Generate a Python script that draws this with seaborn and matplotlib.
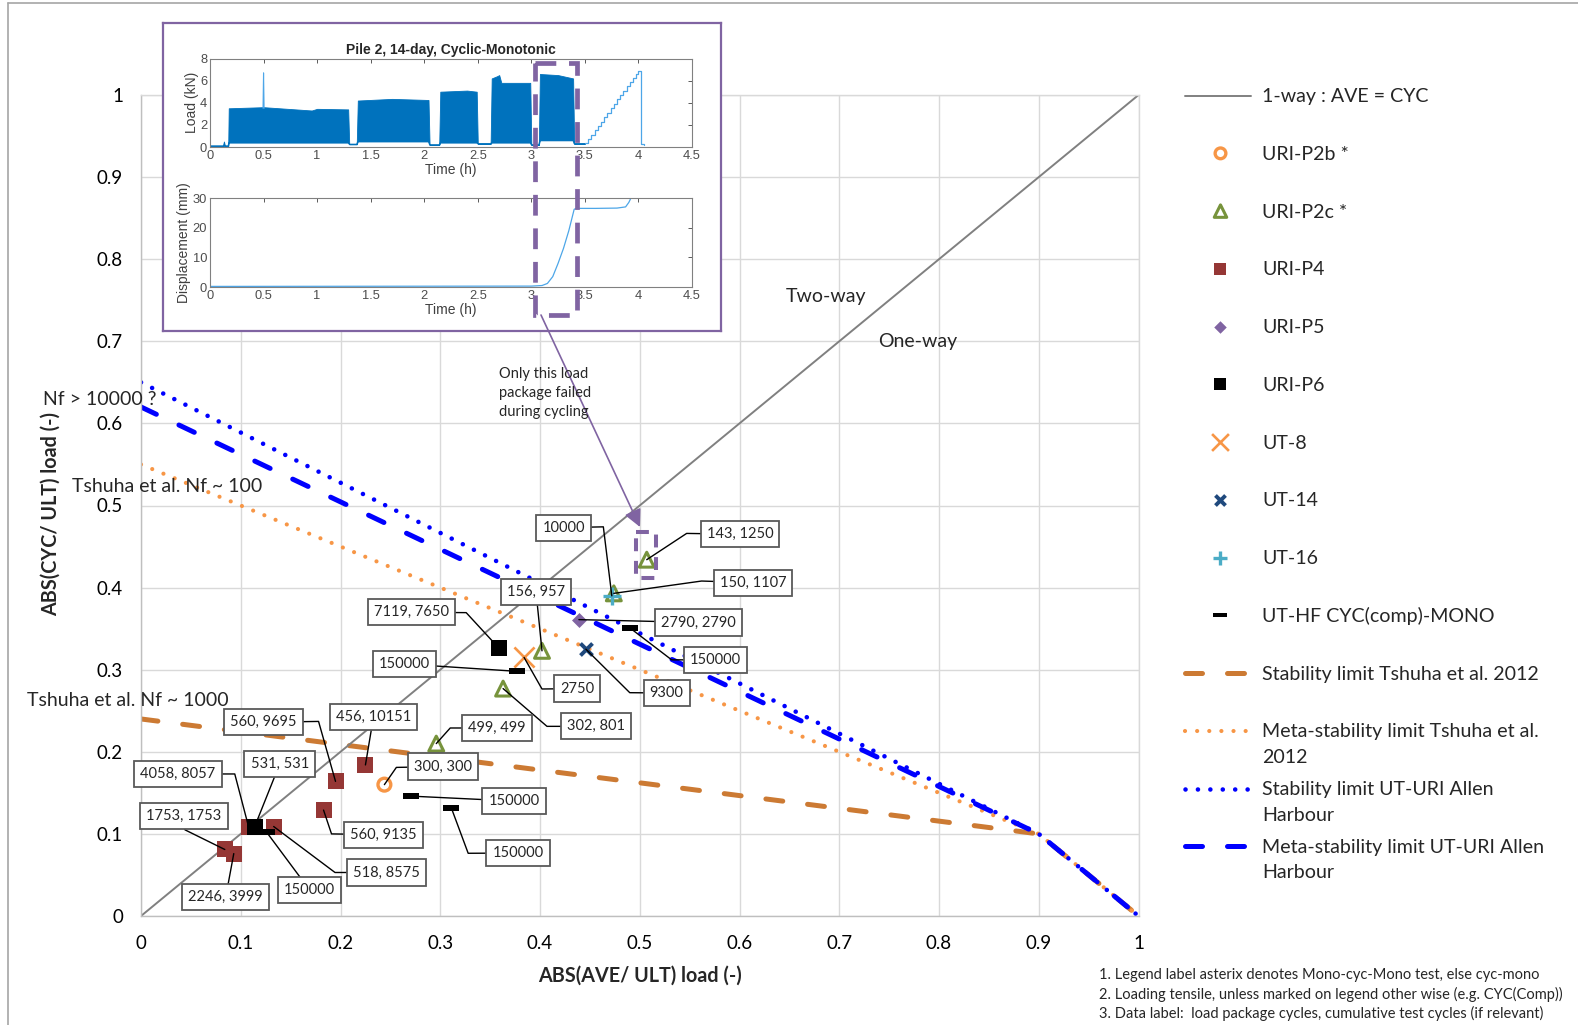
import matplotlib
matplotlib.use("Agg")
import matplotlib.pyplot as plt
from matplotlib.patches import Rectangle
import seaborn as sns

# ---------------------------------------------------------------
# Limit lines, |AVE/ULT| (x) against |CYC/ULT| (y)
# ---------------------------------------------------------------
one_way_x = [0.0, 1.0]
one_way_y = [0.0, 1.0]
tshuha_stab_x = [0.0, 0.9, 1.0]
tshuha_stab_y = [0.24, 0.10, 0.0]
tshuha_meta_x = [0.0, 0.9, 1.0]
tshuha_meta_y = [0.55, 0.10, 0.0]
allen_stab_x = [0.0, 0.9, 1.0]
allen_stab_y = [0.65, 0.10, 0.0]
allen_meta_x = [0.0, 0.9, 1.0]
allen_meta_y = [0.62, 0.10, 0.0]

# ---------------------------------------------------------------
# Test results (data label: load package cycles, cumulative cycles)
# ---------------------------------------------------------------
p2b_x = [0.244]
p2b_y = [0.160]
p2b_labels = ["300, 300"]

p2c_x = [0.296, 0.363, 0.402, 0.474, 0.507]
p2c_y = [0.210, 0.277, 0.323, 0.393, 0.434]
p2c_labels = ["499, 499", "302, 801", "156, 957", "150, 1107", "143, 1250"]

p4_x = [0.084, 0.093, 0.108, 0.133, 0.183, 0.195, 0.225]
p4_y = [0.081, 0.076, 0.108, 0.109, 0.129, 0.164, 0.184]
p4_labels = ["1753, 1753", "2246, 3999", "4058, 8057", "518, 8575",
             "560, 9135", "560, 9695", "456, 10151"]

p5_x = [0.439]
p5_y = [0.361]
p5_labels = ["2790, 2790"]

p6_x = [0.114, 0.359]
p6_y = [0.109, 0.326]
p6_labels = ["531, 531", "7119, 7650"]

ut8_x = [0.384]
ut8_y = [0.315]
ut8_labels = ["2750"]

ut14_x = [0.446]
ut14_y = [0.325]
ut14_labels = ["9300"]

ut16_x = [0.472]
ut16_y = [0.390]
ut16_labels = ["10000"]

uthf_x = [0.126, 0.271, 0.311, 0.377, 0.490]
uthf_y = [0.102, 0.146, 0.132, 0.298, 0.351]
uthf_labels = ["150000", "150000", "150000", "150000", "150000"]

# ---------------------------------------------------------------
# Pile 2 record (inset): load band envelope, monotonic ramp, displacement
# ---------------------------------------------------------------
load_t = [0.00, 0.12, 0.13, 0.14, 0.17, 0.175, 0.50, 0.80, 0.95, 1.00, 1.29, 1.30,
          1.37, 1.38, 1.70, 2.04, 2.05, 2.14, 2.15, 2.40, 2.49, 2.50, 2.62, 2.63,
          2.68, 2.70, 2.72, 2.99, 3.00, 3.07, 3.08, 3.25, 3.39, 3.40, 3.50]
load_lo = [0.10, 0.10, 0.10, 0.10, 0.10, 0.40, 0.40, 0.40, 0.40, 0.40, 0.40, 0.25,
           0.25, 0.50, 0.50, 0.50, 0.20, 0.20, 0.40, 0.40, 0.40, 0.30, 0.30, 0.40,
           0.40, 0.40, 0.40, 0.40, 0.20, 0.20, 0.60, 0.60, 0.60, 0.30, 0.30]
load_hi = [0.10, 0.10, 0.50, 0.10, 0.10, 3.50, 3.60, 3.40, 3.30, 3.45, 3.40, 0.25,
           0.25, 4.20, 4.35, 4.25, 0.20, 0.20, 5.00, 5.10, 5.00, 0.30, 0.30, 6.20,
           6.40, 6.50, 5.80, 5.80, 0.20, 0.20, 6.60, 6.50, 6.20, 0.30, 0.30]
spike_t = [0.495, 0.500, 0.505]
spike_load = [3.50, 6.70, 3.50]
ramp_t = [3.50, 3.53, 3.56, 3.59, 3.62, 3.65, 3.68, 3.71, 3.74, 3.77, 3.80,
          3.83, 3.86, 3.89, 3.92, 3.95, 3.98, 4.00, 4.02, 4.05]
ramp_load = [0.40, 0.70, 1.10, 1.50, 1.90, 2.30, 2.70, 3.10, 3.50, 3.90, 4.30,
             4.70, 5.10, 5.50, 5.90, 6.20, 6.60, 6.90, 0.30, 0.20]
disp_t = [0.00, 3.00, 3.10, 3.15, 3.20, 3.25, 3.30, 3.35, 3.40, 3.42, 3.60,
          3.80, 3.88, 3.91, 3.93]
disp_mm = [0.2, 0.3, 0.5, 1.2, 3.5, 8.0, 13.0, 19.0, 26.2, 26.5, 26.5,
           26.6, 27.0, 28.5, 30.0]

# ---------------------------------------------------------------
W, H = 1578, 1025
sns.set_theme(style="whitegrid")
plt.rcParams["font.family"] = ["Lato", "DejaVu Sans"]
INSET_FONT = ["Liberation Sans", "DejaVu Sans"]

PURPLE = "#8064A2"
DASH_MARK = [(-1, -0.35), (1, -0.35), (1, 0.35), (-1, 0.35), (-1, -0.35)]

series = [
    ("URI-P2b *", p2b_x, p2b_y, p2b_labels,
     dict(marker="o", s=85, color="#F79646", facecolor="none",
          edgecolor="#F79646", linewidth=2.4)),
    ("URI-P2c *", p2c_x, p2c_y, p2c_labels,
     dict(marker="^", s=115, color="#77933C", facecolor="none",
          edgecolor="#77933C", linewidth=2.2)),
    ("URI-P4", p4_x, p4_y, p4_labels,
     dict(marker="s", s=117, color="#953735", linewidth=0)),
    ("URI-P5", p5_x, p5_y, p5_labels,
     dict(marker="D", s=58, color=PURPLE, linewidth=0)),
    ("URI-P6", p6_x, p6_y, p6_labels,
     dict(marker="s", s=117, color="black", linewidth=0)),
    ("UT-8", ut8_x, ut8_y, ut8_labels,
     dict(marker="x", s=210, color="#F79646", linewidth=1.9)),
    ("UT-14", ut14_x, ut14_y, ut14_labels,
     dict(marker="x", s=75, color="#1F497D", linewidth=2.8)),
    ("UT-16", ut16_x, ut16_y, ut16_labels,
     dict(marker="+", s=150, color="#4BACC6", linewidth=2.4)),
    ("UT-HF CYC(comp)-MONO", uthf_x, uthf_y, uthf_labels,
     dict(marker=DASH_MARK, s=132, color="black", linewidth=0)),
]

limit_lines = [
    ("Stability limit Tshuha et al. 2012", tshuha_stab_x, tshuha_stab_y,
     dict(color="#CC7A33", linewidth=3.6, linestyle=(0, (3.4, 5.0)), dash_capstyle="round")),
    ("Meta-stability limit Tshuha et al.\n2012", tshuha_meta_x, tshuha_meta_y,
     dict(color="#F79646", linewidth=3.0, linestyle=(0, (0.01, 2.9)), dash_capstyle="round")),
    ("Stability limit UT-URI Allen\nHarbour", allen_stab_x, allen_stab_y,
     dict(color="#0000FF", linewidth=3.3, linestyle=(0, (0.01, 2.7)), dash_capstyle="round")),
    ("Meta-stability limit UT-URI Allen\nHarbour", allen_meta_x, allen_meta_y,
     dict(color="#0000FF", linewidth=3.6, linestyle=(0, (3.4, 5.0)), dash_capstyle="round")),
]
one_way_style = dict(color="#808080", linewidth=1.4)

# label box centre and optional elbow point of each leader, per series
label_layout = {
    "URI-P2b *": [((0.303, 0.182), (0.256, 0.181))],
    "URI-P2c *": [((0.357, 0.229), (0.310, 0.229)),
                  ((0.456, 0.231), (0.407, 0.231)),
                  ((0.396, 0.395), None),
                  ((0.6135, 0.406), (0.562, 0.408)),
                  ((0.6005, 0.465), (0.547, 0.466))],
    "URI-P4": [((0.043, 0.122), (0.044, 0.105)),
               ((0.085, 0.0235), None),
               ((0.037, 0.173), (0.094, 0.173)),
               ((0.246, 0.053), (0.1945, 0.053)),
               ((0.243, 0.099), (0.191, 0.100)),
               ((0.123, 0.236), (0.178, 0.237)),
               ((0.233, 0.242), None)],
    "URI-P5": [((0.559, 0.3575), None)],
    "URI-P6": [((0.139, 0.185), None),
               ((0.271, 0.370), (0.326, 0.3695))],
    "UT-8": [((0.437, 0.277), (0.402, 0.2765))],
    "UT-14": [((0.527, 0.2716), (0.490, 0.272))],
    "UT-16": [((0.4236, 0.473), (0.4635, 0.474))],
    "UT-HF CYC(comp)-MONO": [((0.169, 0.0317), None),
                             ((0.374, 0.140), None),
                             ((0.378, 0.0767), (0.328, 0.0764)),
                             ((0.264, 0.307), None),
                             ((0.576, 0.312), (0.532, 0.312))],
}


def fig_rect(x0, y0, x1, y1):
    """Pixel box (origin top-left) -> figure fraction rect."""
    return [x0 / W, 1 - y1 / H, (x1 - x0) / W, (y1 - y0) / H]


fig = plt.figure(figsize=(W / 100, H / 100), dpi=100)
fig.patch.set_facecolor("white")

# ---------------------------------------------------------------
# Main chart
# ---------------------------------------------------------------
ax = fig.add_axes(fig_rect(141, 95, 1138.5, 916), zorder=0)
ax.set_facecolor("white")
ax.set_xlim(0, 1)
ax.set_ylim(0, 1)
ticks = [i / 10 for i in range(11)]
tick_text = ["0"] + [f"{t:.1f}" for t in ticks[1:-1]] + ["1"]
ax.set_xticks(ticks, tick_text)
ax.set_yticks(ticks, tick_text)
ax.tick_params(length=0, labelsize=13.5, colors="black")
ax.tick_params(axis="x", pad=14)
ax.tick_params(axis="y", pad=13)
ax.grid(True, color="#D9D9D9", linewidth=1.0)
for side in ["top", "right"]:
    ax.spines[side].set_color("#D9D9D9")
    ax.spines[side].set_linewidth(1.0)
for side in ["left", "bottom"]:
    ax.spines[side].set_color("#BFBFBF")
    ax.spines[side].set_linewidth(1.0)

for name, xs, ys, st in limit_lines:
    sns.lineplot(x=xs, y=ys, ax=ax, zorder=2, **st)
sns.lineplot(x=one_way_x, y=one_way_y, ax=ax, zorder=2.2, **one_way_style)

for name, xs, ys, labels, st in series:
    sns.scatterplot(x=xs, y=ys, ax=ax, zorder=3, legend=False, **st)

box_style = dict(boxstyle="square,pad=0.42", facecolor="white",
                 edgecolor="#595959", linewidth=1.3)
for name, xs, ys, labels, st in series:
    for (px, py, lab, (pos, knee)) in zip(xs, ys, labels, label_layout[name]):
        path_x = [px] + ([knee[0]] if knee else []) + [pos[0]]
        path_y = [py] + ([knee[1]] if knee else []) + [pos[1]]
        ax.plot(path_x, path_y, color="black", linewidth=1.0, zorder=4,
                clip_on=False)
        ax.text(pos[0], pos[1], lab, ha="center", va="center", fontsize=10.5,
                bbox=box_style, zorder=5, clip_on=False)

ax.text(0.6466, 0.755, "Two-way", fontsize=14, ha="left", va="center")
ax.text(0.739, 0.6995, "One-way", fontsize=14, ha="left", va="center")
ax.text(-0.098, 0.629, "Nf > 10000 ?", fontsize=14, ha="left", va="center", zorder=6)
ax.text(-0.0695, 0.523, "Tshuha et al. Nf ~ 100", fontsize=14, ha="left",
        va="center", zorder=6)
ax.text(-0.114, 0.262, "Tshuha et al. Nf ~ 1000", fontsize=14, ha="left",
        va="center", zorder=6)

ax.set_xlabel("ABS(AVE/ ULT) load (-)", fontsize=14.2, fontweight="bold")
ax.xaxis.set_label_coords(0.5, (916 - 976) / 821)
ax.xaxis.label.set_va("center")
ax.set_ylabel("ABS(CYC/ ULT) load (-)", fontsize=14.2, fontweight="bold")
ax.yaxis.set_label_coords((51 - 141) / 997.5, (916 - 514) / 821)
ax.yaxis.label.set_va("center")

# ---------------------------------------------------------------
# Inset: load and displacement record of Pile 2
# ---------------------------------------------------------------
frame = fig.add_axes(fig_rect(163, 22.5, 720.5, 331), zorder=1)
frame.set_facecolor("white")
frame.set_xticks([])
frame.set_yticks([])
frame.grid(False)
for sp in frame.spines.values():
    sp.set_color(PURPLE)
    sp.set_linewidth(1.6)

a1 = fig.add_axes(fig_rect(210, 58.5, 692, 147), zorder=2)
a2 = fig.add_axes(fig_rect(210, 198, 692, 287), zorder=2)
hours = [i / 2 for i in range(10)]
hour_text = ["0", "0.5", "1", "1.5", "2", "2.5", "3", "3.5", "4", "4.5"]
for a in (a1, a2):
    a.set_facecolor("white")
    a.grid(False)
    a.set_xlim(0, 4.5)
    a.set_xticks(hours, hour_text)
    a.tick_params(direction="in", length=3, width=0.6, top=True, right=True,
                  labelsize=9.3, color="#404040", labelcolor="#4D4D4D", pad=2)
    for sp in a.spines.values():
        sp.set_color("#808080")
        sp.set_linewidth(0.8)
    a.set_xlabel("Time (h)", fontsize=10, color="#404040", labelpad=1,
                 family=INSET_FONT)

a1.fill_between(load_t, load_lo, load_hi, color="#0072BD", linewidth=0.6,
                edgecolor="#0072BD")
sns.lineplot(x=load_t, y=load_lo, ax=a1, color="#0072BD", linewidth=0.8)
sns.lineplot(x=spike_t, y=spike_load, ax=a1, color="#4DA6E8", linewidth=0.8)
a1.plot(ramp_t, ramp_load, color="#4DA6E8", linewidth=0.9, drawstyle="steps-post")
a1.set_ylim(0, 8)
a1.set_yticks([0, 2, 4, 6, 8], ["0", "2", "4", "6", "8"])
a1.set_ylabel("Load (kN)", fontsize=10, color="#404040", labelpad=1,
              family=INSET_FONT)
a1.set_title("Pile 2, 14-day, Cyclic-Monotonic", fontsize=10, fontweight="bold",
             family=INSET_FONT, pad=3)

sns.lineplot(x=disp_t, y=disp_mm, ax=a2, color="#4DA6E8", linewidth=0.9)
a2.set_ylim(0, 30)
a2.set_yticks([0, 10, 20, 30], ["0", "10", "20", "30"])
a2.set_ylabel("Displacement (mm)", fontsize=10, color="#404040", labelpad=1,
              family=INSET_FONT)
for a in (a1, a2):
    for lab in a.get_xticklabels() + a.get_yticklabels():
        lab.set_family(INSET_FONT)

# ---------------------------------------------------------------
# Overlay in pixel units: callouts, legend, notes, outer frame
# ---------------------------------------------------------------
ov = fig.add_axes([0, 0, 1, 1], zorder=10)
ov.set_xlim(0, W)
ov.set_ylim(H, 0)
ov.axis("off")
ov.patch.set_alpha(0)

ov.plot([8, 8], [H, 3], color="#A6A6A6", linewidth=1.2)
ov.plot([8, W], [3, 3], color="#A6A6A6", linewidth=1.2)

ov.add_patch(Rectangle((535, 63), 42, 252, fill=False, edgecolor=PURPLE,
                       linewidth=3.4, linestyle=(0, (4.4, 2.7)), capstyle="butt"))
ov.add_patch(Rectangle((636, 531.5), 20, 46.5, fill=False, edgecolor=PURPLE,
                       linewidth=2.9, linestyle=(0, (3.2, 2.4)), capstyle="butt"))
ov.annotate("", xy=(640, 527), xytext=(541, 315),
            arrowprops=dict(arrowstyle="-|>,head_length=0.7,head_width=0.35",
                            color=PURPLE, linewidth=1.2, shrinkA=0, shrinkB=0,
                            mutation_scale=15))
ov.text(499, 393, "Only this load\npackage failed\nduring cycling", fontsize=10.5,
        ha="left", va="center", linespacing=1.42)

# legend
leg_y0, leg_step = 95.6, 57.75
handle_x0, handle_x1, mark_x, text_x = 1185, 1251, 1220.5, 1262
legend_rows = [("1-way : AVE = CYC", "line", one_way_style)]
legend_rows += [(name, "mark", st) for name, xs, ys, labels, st in series]
legend_rows += [(name, "line", st) for name, xs, ys, st in limit_lines]
for i, (name, kind, st) in enumerate(legend_rows):
    y = leg_y0 + i * leg_step
    if kind == "line":
        sns.lineplot(x=[handle_x0, handle_x1], y=[y, y], ax=ov, **st)
    else:
        mst = dict(st)
        mst["s"] = st["s"] * 0.7
        sns.scatterplot(x=[mark_x], y=[y], ax=ov, legend=False, **mst)
    for j, line in enumerate(name.split("\n")):
        ov.text(text_x, y + 1 + j * 25.5, line, fontsize=14.1, ha="left", va="center")

notes = ["1. Legend label asterix denotes Mono-cyc-Mono test, else cyc-mono",
         "2. Loading tensile, unless marked on legend other wise (e.g. CYC(Comp))",
         "3. Data label:  load package cycles, cumulative test cycles (if relevant)"]
for j, line in enumerate(notes):
    ov.text(1099, 975 + j * 19.2, line, fontsize=10.5, ha="left", va="center")

ov.set_xlim(0, W)
ov.set_ylim(H, 0)

fig.savefig("out.png", dpi=100)
